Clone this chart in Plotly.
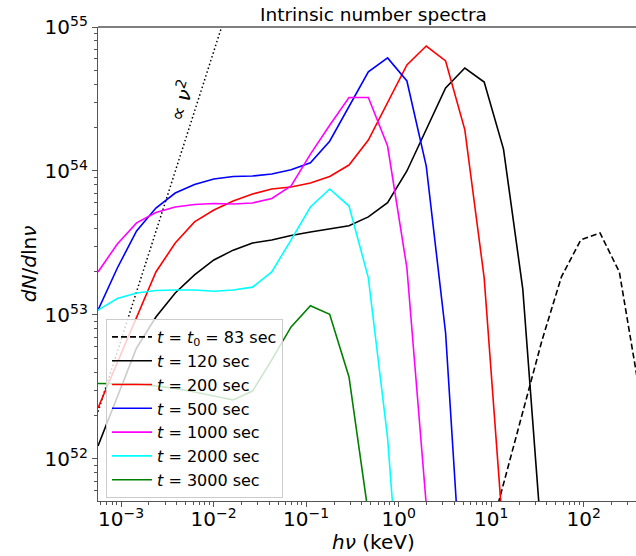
import plotly.graph_objects as go

# photon energy grid h*nu (keV)
energy = [5.623e-4, 9.10e-4, 1.469e-3, 2.377e-3, 3.846e-3, 6.209e-3, 1.005e-2,
          1.626e-2, 2.630e-2, 4.246e-2, 6.871e-2, 0.1112, 0.1795, 0.2904,
          0.4699, 0.7586, 1.227, 1.986, 3.214, 5.188, 8.395, 13.58, 21.93,
          35.48, 57.41, 92.90, 150.0, 242.7, 392.6]

# dN/dln(nu) for each epoch
n_t0 = [None] * 20 + [2.12e51, 6.70e51, 2.12e52, 6.70e52, 1.84e53, 3.32e53,
                      3.71e53, 1.99e53, 3.16e52]
n_120 = [1.23e52, 2.74e52, 5.90e52, 9.68e52, 1.42e53, 1.90e53, 2.41e53, 2.82e53,
         3.16e53, 3.32e53, 3.56e53, 3.77e53, 3.95e53, 4.17e53, 4.80e53, 6.03e53,
         1.00e54, 1.93e54, 3.77e54, 5.19e54, 4.15e54, 1.42e54, 1.52e53, 2.49e51]
n_200 = [2.26e52, 4.72e52, 9.53e52, 1.99e53, 3.16e53, 4.43e53, 5.36e53, 6.19e53,
         6.92e53, 7.50e53, 7.74e53, 8.26e53, 9.16e53, 1.10e54, 1.64e54, 2.96e54,
         5.45e54, 7.38e54, 5.81e54, 1.93e54, 1.81e53, 2.78e51]
n_500 = [1.08e53, 2.12e53, 3.83e53, 5.53e53, 7.03e53, 8.05e53, 8.79e53, 9.16e53,
         9.23e53, 9.53e53, 1.02e54, 1.14e54, 1.61e54, 2.78e54, 4.88e54, 6.10e54,
         4.22e54, 1.08e54, 7.50e52, 5.71e50]
n_1000 = [1.99e53, 3.11e53, 4.36e53, 5.15e53, 5.62e53, 5.85e53, 5.94e53, 5.90e53,
          6.00e53, 6.44e53, 7.87e53, 1.31e54, 2.08e54, 3.24e54, 3.24e54, 1.49e54,
          2.12e53, 4.80e51]
n_2000 = [1.08e53, 1.30e53, 1.42e53, 1.48e53, 1.49e53, 1.49e53, 1.46e53, 1.49e53,
          1.56e53, 1.99e53, 3.32e53, 5.62e53, 7.50e53, 5.71e53, 1.81e53, 1.40e52,
          2.30e50]
n_3000 = [3.34e52, 3.34e52, 3.32e52, 3.21e52, 3.09e52, 2.92e52, 2.74e52, 2.57e52,
          2.96e52, 4.88e52, 8.26e52, 1.16e53, 1.01e53, 3.71e52, 4.15e51]

# nu^2 guide line
nu2_x = [5.623e-4, 1.5e-2]
nu2_norm = 6.73e58
nu2_y = [nu2_norm * e ** 2 for e in nu2_x]

x_tickvals = [1e-3, 1e-2, 1e-1, 1e0, 1e1, 1e2]
x_ticktext = ["10<sup>\u22123</sup>", "10<sup>\u22122</sup>", "10<sup>\u22121</sup>",
              "10<sup>0</sup>", "10<sup>1</sup>", "10<sup>2</sup>"]
y_tickvals = [1e52, 1e53, 1e54, 1e55]
y_ticktext = ["10<sup>52</sup>", "10<sup>53</sup>", "10<sup>54</sup>", "10<sup>55</sup>"]

series = [
    ("<i>t</i> = <i>t</i><sub>0</sub> = 83 sec", n_t0, "black", "6px,3px"),
    ("<i>t</i> = 120 sec", n_120, "black", "solid"),
    ("<i>t</i> = 200 sec", n_200, "#ff0000", "solid"),
    ("<i>t</i> = 500 sec", n_500, "#0000ff", "solid"),
    ("<i>t</i> = 1000 sec", n_1000, "#ff00ff", "solid"),
    ("<i>t</i> = 2000 sec", n_2000, "#00ffff", "solid"),
    ("<i>t</i> = 3000 sec", n_3000, "#008000", "solid"),
]

fig = go.Figure()
fig.add_trace(go.Scatter(x=nu2_x, y=nu2_y, mode="lines", showlegend=False,
                         line=dict(color="black", width=1.5, dash="1.5px,2.5px")))
for name, vals, color, dash in series:
    fig.add_trace(go.Scatter(x=energy[:len(vals)], y=vals, mode="lines", name=name,
                             connectgaps=False,
                             line=dict(color=color, width=1.6, dash=dash)))

minor_x = [m * 10.0 ** k for k in range(-4, 3) for m in range(2, 10)]
minor_y = [m * 10.0 ** k for k in range(51, 55) for m in range(2, 10)]

axis_common = dict(showgrid=False, zeroline=False, showline=True, linecolor="#555555",
                   linewidth=1.3, ticks="outside", ticklen=5, tickwidth=1.2,
                   tickcolor="#555555", tickfont=dict(family="DejaVu Sans", size=20, color="black"))
fig.update_xaxes(type="log", range=[-3.25, 2.565], tickmode="array",
                 tickvals=x_tickvals, ticktext=x_ticktext, ticklabelstandoff=-5,
                 minor=dict(tickmode="array", tickvals=minor_x, ticks="outside",
                            ticklen=3, tickcolor="#555555", showgrid=False),
                 **axis_common)
fig.update_yaxes(type="log", range=[51.708, 55.0], tickmode="array",
                 tickvals=y_tickvals, ticktext=y_ticktext,
                 minor=dict(tickmode="array", tickvals=minor_y, ticks="outside",
                            ticklen=3, tickcolor="#555555", showgrid=False),
                 **axis_common)

fig.add_shape(type="line", xref="paper", yref="paper", x0=0, x1=1, y0=1, y1=1,
              line=dict(color="#555555", width=1.3))

fig.add_annotation(text="Intrinsic number spectra", xref="paper", yref="paper",
                   x=0.513, y=1.026, xanchor="center", yanchor="middle", showarrow=False,
                   font=dict(family="DejaVu Sans", size=18.5, color="black"))
fig.add_annotation(text="<i>h\u03bd</i> (keV)", xref="paper", yref="paper",
                   x=0.513, y=-0.086, xanchor="center", yanchor="middle", showarrow=False,
                   font=dict(family="DejaVu Sans", size=20, color="black"))
fig.add_annotation(text="<i>dN</i>/<i>d</i>ln<i>\u03bd</i>", xref="paper", yref="paper",
                   x=-0.128, y=0.5, xanchor="center", yanchor="middle", showarrow=False,
                   textangle=-90, font=dict(family="DejaVu Sans", size=20, color="black"))
fig.add_annotation(text="\u221d <i>\u03bd</i><sup>2</sup>", xref="paper", yref="paper",
                   x=0.154, y=0.846, xanchor="center", yanchor="middle", showarrow=False,
                   textangle=-72, font=dict(family="DejaVu Sans", size=20, color="black"))

fig.update_layout(
    width=636, height=556,
    margin=dict(l=98, r=0, t=27, b=55),
    plot_bgcolor="white", paper_bgcolor="white",
    font=dict(family="DejaVu Sans", color="black"),
    showlegend=True,
    legend=dict(x=0.0149, y=0.384, xanchor="left", yanchor="top",
                bgcolor="rgba(255,255,255,0.8)", bordercolor="#cccccc", borderwidth=1,
                font=dict(family="DejaVu Sans", size=16, color="black"),
                itemwidth=40, tracegroupgap=0),
)

fig.write_html("out.html")
